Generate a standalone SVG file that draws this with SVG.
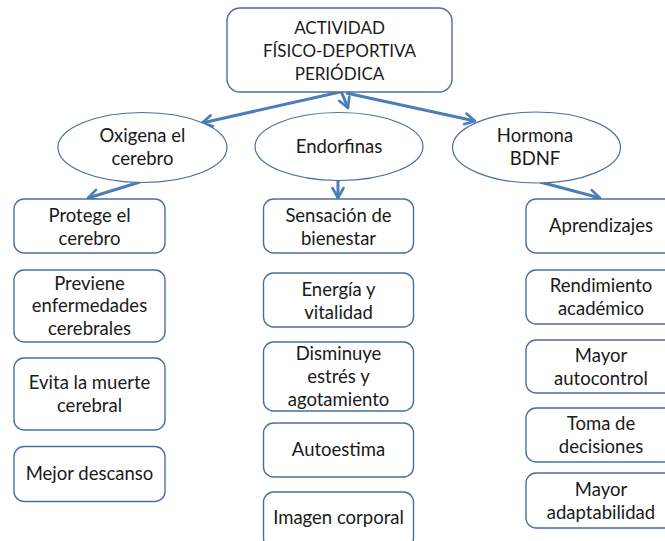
<svg xmlns="http://www.w3.org/2000/svg" width="665" height="541" viewBox="0 0 665 541">
<defs>
<style>
.box{fill:#fff;stroke:#4a6f9c;stroke-width:1.4}
.ell{fill:#fff;stroke:#4a6f9c;stroke-width:1.2}
.t{font-family:Lato,"Liberation Sans",sans-serif;font-size:18.5px;fill:#1a1a1a;text-anchor:middle}
.h{font-size:17px}
.arr{fill:none;stroke:#4a7ebb;stroke-width:3;marker-end:url(#ah)}
</style>
<marker id="ah" markerUnits="userSpaceOnUse" viewBox="0 0 14 14" markerWidth="14" markerHeight="14" refX="12" refY="7" orient="auto">
<path d="M2,1.5 L12,7 L2,12.5" fill="none" stroke="#4a7ebb" stroke-width="2.6" stroke-linecap="round" stroke-linejoin="round"/>
</marker>
</defs>
<rect width="665" height="541" fill="#fff"/>
<g id="connectors">
<line class="arr" x1="340" y1="92" x2="202" y2="123"/>
<line class="arr" x1="341" y1="91" x2="348" y2="108"/>
<line class="arr" x1="346" y1="93" x2="475" y2="121"/>
<line class="arr" x1="140" y1="182" x2="88" y2="198"/>
<line class="arr" x1="338" y1="181" x2="338" y2="198"/>
<line class="arr" x1="540" y1="182" x2="600" y2="198"/>
</g>
<g id="root">
<rect class="box" x="227" y="8" width="225" height="84" rx="13"/>
<text class="t h" x="339.5" y="33.5">ACTIVIDAD</text>
<text class="t h" x="339.5" y="56.5">FÍSICO-DEPORTIVA</text>
<text class="t h" x="339.5" y="79.5">PERIÓDICA</text>
</g>
<g id="oxigena">
<ellipse class="ell" cx="142.5" cy="147.5" rx="84.5" ry="35"/>
<text class="t" x="142.5" y="141.5">Oxigena el</text>
<text class="t" x="142.5" y="165">cerebro</text>
</g>
<g id="endorfinas">
<ellipse class="ell" cx="339" cy="146.5" rx="84" ry="34"/>
<text class="t" x="339" y="153">Endorfinas</text>
</g>
<g id="hormona">
<ellipse class="ell" cx="536.5" cy="147.5" rx="84" ry="35.5"/>
<text class="t" x="535" y="141.5">Hormona</text>
<text class="t" x="535" y="165">BDNF</text>
</g>
<g id="protege">
<rect class="box" x="14" y="199" width="151" height="54" rx="10"/>
<text class="t" x="89.5" y="221.5">Protege el</text>
<text class="t" x="89.5" y="244.5">cerebro</text>
</g>
<g id="previene">
<rect class="box" x="14" y="270" width="151" height="72" rx="10"/>
<text class="t" x="89.5" y="289.5">Previene</text>
<text class="t" x="89.5" y="312">enfermedades</text>
<text class="t" x="89.5" y="334.5">cerebrales</text>
</g>
<g id="evita">
<rect class="box" x="14" y="358" width="151" height="72" rx="10"/>
<text class="t" x="89.5" y="388.5">Evita la muerte</text>
<text class="t" x="89.5" y="411.5">cerebral</text>
</g>
<g id="mejor-descanso">
<rect class="box" x="14" y="446.5" width="151" height="55" rx="10"/>
<text class="t" x="89.5" y="479.5">Mejor descanso</text>
</g>
<g id="sensacion">
<rect class="box" x="263.5" y="199" width="150" height="54" rx="10"/>
<text class="t" x="338.5" y="221.5">Sensación de</text>
<text class="t" x="338.5" y="244.5">bienestar</text>
</g>
<g id="energia">
<rect class="box" x="263.5" y="273" width="150" height="54" rx="10"/>
<text class="t" x="338.5" y="295.5">Energía y</text>
<text class="t" x="338.5" y="318.5">vitalidad</text>
</g>
<g id="disminuye">
<rect class="box" x="263.5" y="342" width="150" height="69" rx="10"/>
<text class="t" x="338.5" y="360">Disminuye</text>
<text class="t" x="338.5" y="383">estrés y</text>
<text class="t" x="338.5" y="405.5">agotamiento</text>
</g>
<g id="autoestima">
<rect class="box" x="263.5" y="423" width="150" height="54" rx="10"/>
<text class="t" x="338.5" y="456">Autoestima</text>
</g>
<g id="imagen">
<rect class="box" x="263.5" y="492" width="150" height="56" rx="10"/>
<text class="t" x="338.5" y="524">Imagen corporal</text>
</g>
<g id="aprendizajes">
<rect class="box" x="526" y="199" width="150" height="54" rx="10"/>
<text class="t" x="601" y="232">Aprendizajes</text>
</g>
<g id="rendimiento">
<rect class="box" x="526" y="270" width="150" height="54" rx="10"/>
<text class="t" x="601" y="292">Rendimiento</text>
<text class="t" x="601" y="315">académico</text>
</g>
<g id="autocontrol">
<rect class="box" x="526" y="340" width="150" height="53" rx="10"/>
<text class="t" x="601" y="361.5">Mayor</text>
<text class="t" x="601" y="384.5">autocontrol</text>
</g>
<g id="decisiones">
<rect class="box" x="526" y="408" width="150" height="54" rx="10"/>
<text class="t" x="601" y="430">Toma de</text>
<text class="t" x="601" y="453">decisiones</text>
</g>
<g id="adaptabilidad">
<rect class="box" x="526" y="473" width="150" height="55" rx="10"/>
<text class="t" x="601" y="495.5">Mayor</text>
<text class="t" x="601" y="518.5">adaptabilidad</text>
</g>
</svg>
